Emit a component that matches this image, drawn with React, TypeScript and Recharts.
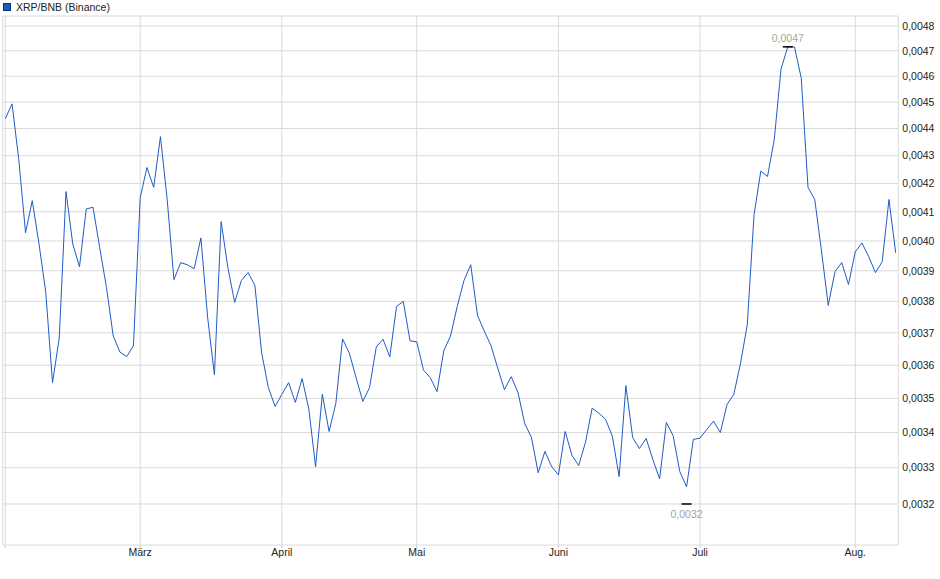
import React from "react";
import {
  LineChart,
  Line,
  XAxis,
  YAxis,
  CartesianGrid,
  ReferenceArea,
  ReferenceDot,
} from "recharts";

// closing prices XRP/BNB, one point per trading day
const values = [
  0.004437, 0.004493, 0.004286, 0.004028, 0.004139, 0.00399, 0.003829, 0.003547,
  0.003684, 0.004171, 0.00399, 0.003913, 0.00411, 0.004116, 0.003977, 0.003845,
  0.00369, 0.00364, 0.003626, 0.00366, 0.00415, 0.004257, 0.004186, 0.00437,
  0.004143, 0.003871, 0.003927, 0.00392, 0.003907, 0.00401, 0.003748, 0.003571,
  0.004066, 0.00391, 0.003797, 0.003868, 0.003894, 0.003852, 0.003638, 0.003532,
  0.003476, 0.003512, 0.003547, 0.003488, 0.003559, 0.003468, 0.003303, 0.003512,
  0.003403, 0.003485, 0.003681, 0.003637, 0.003562, 0.003491, 0.003532, 0.003656,
  0.00368, 0.003625, 0.003784, 0.0038, 0.003675, 0.003672, 0.003585, 0.003562,
  0.00352, 0.003644, 0.00369, 0.003784, 0.003868, 0.00392, 0.003755, 0.003706,
  0.00366, 0.003591, 0.003526, 0.003565, 0.003518, 0.003426, 0.003386, 0.003286,
  0.003346, 0.003303, 0.00328, 0.003403, 0.003335, 0.003306, 0.003371, 0.003471,
  0.003456, 0.003438, 0.003389, 0.003275, 0.003538, 0.003386, 0.003354, 0.003383,
  0.003323, 0.003269, 0.003429, 0.003391, 0.003289, 0.003247, 0.00338, 0.003384,
  0.003409, 0.003433, 0.0034, 0.003482, 0.003512, 0.003606, 0.003726, 0.00409,
  0.004244, 0.004225, 0.00436, 0.004628, 0.004716, 0.004715, 0.004592, 0.004186,
  0.004143, 0.003966, 0.003787, 0.003897, 0.003927, 0.003855, 0.003963, 0.003993,
  0.003947, 0.003894, 0.00393, 0.004143, 0.00396,
];

// index of the first trading day of each month
const monthTicks = [0, 20, 41, 61, 82, 103, 126];
const monthLabels = ["", "März", "April", "Mai", "Juni", "Juli", "Aug."];

const priceTicks = [
  0.0032, 0.0033, 0.0034, 0.0035, 0.0036, 0.0037, 0.0038, 0.0039, 0.004,
  0.0041, 0.0042, 0.0043, 0.0044, 0.0045, 0.0046, 0.0047, 0.0048,
];

const highMark = { index: 116, value: 0.004716 };
const lowMark = { index: 101, value: 0.0032 };

const data = values.map((v, i) => ({ i, v }));

const fmt = (v: number) => v.toFixed(4).replace(".", ",");
const font = "'Liberation Sans', Arial, sans-serif";

const Mark = (props: any) => {
  const { cx, cy, text, above } = props;
  return (
    <g>
      <line x1={cx - 5} x2={cx + 5} y1={cy} y2={cy} stroke="#000" strokeWidth={1.5} />
      <text
        x={cx}
        y={above ? cy - 9 : cy + 10}
        textAnchor="middle"
        dominantBaseline="central"
        fontSize={10.5}
        fontFamily={font}
        fill="#a8a29a"
      >
        {text}
      </text>
    </g>
  );
};

export default function App() {
  return (
    <div style={{ position: "absolute", left: 0, top: 0, width: 940, height: 579, background: "#fff" }}>
      <div
        style={{
          position: "absolute",
          left: 3,
          top: 0,
          height: 13,
          display: "flex",
          alignItems: "center",
          fontFamily: font,
          fontSize: 10.5,
          color: "#222",
        }}
      >
        <span
          style={{
            display: "inline-block",
            width: 6,
            height: 6,
            background: "#1f5bc6",
            border: "1px solid #0d2f73",
            marginRight: 5,
          }}
        />
        XRP/BNB (Binance)
      </div>
      <LineChart
        width={940}
        height={579}
        data={data}
        margin={{ top: 16, right: 0, bottom: 0, left: 2.7 }}
      >
        <CartesianGrid stroke="#dadada" />
        <ReferenceArea fill="none" stroke="#dadada" ifOverflow="visible" />
        <XAxis
          dataKey="i"
          type="number"
          domain={[-0.385, 132.385]}
          allowDataOverflow
          ticks={monthTicks}
          tickFormatter={(v: number) => monthLabels[monthTicks.indexOf(v)] ?? ""}
          height={34}
          axisLine={false}
          tickLine={{ stroke: "#cccccc" }}
          tickSize={3}
          tickMargin={1}
          tick={{ fill: "#222", fontSize: 10.5, fontFamily: font }}
          interval={0}
        />
        <YAxis
          orientation="right"
          scale="log"
          domain={[0.0030906, 0.0048409]}
          allowDataOverflow
          ticks={priceTicks}
          tickFormatter={fmt}
          width={41.7}
          axisLine={false}
          tickLine={false}
          tickSize={2}
          tickMargin={2}
          tick={{ fill: "#222", fontSize: 10.5, fontFamily: font, textAnchor: "start" }}
          interval={0}
        />
        <Line
          type="linear"
          dataKey="v"
          stroke="#1f5bc6"
          strokeWidth={1}
          dot={false}
          activeDot={false}
          isAnimationActive={false}
        />
        <ReferenceDot
          x={highMark.index}
          y={highMark.value}
          shape={(p: any) => <Mark {...p} text={fmt(highMark.value)} above />}
        />
        <ReferenceDot
          x={lowMark.index}
          y={lowMark.value}
          shape={(p: any) => <Mark {...p} text={fmt(lowMark.value)} />}
        />
      </LineChart>
    </div>
  );
}
